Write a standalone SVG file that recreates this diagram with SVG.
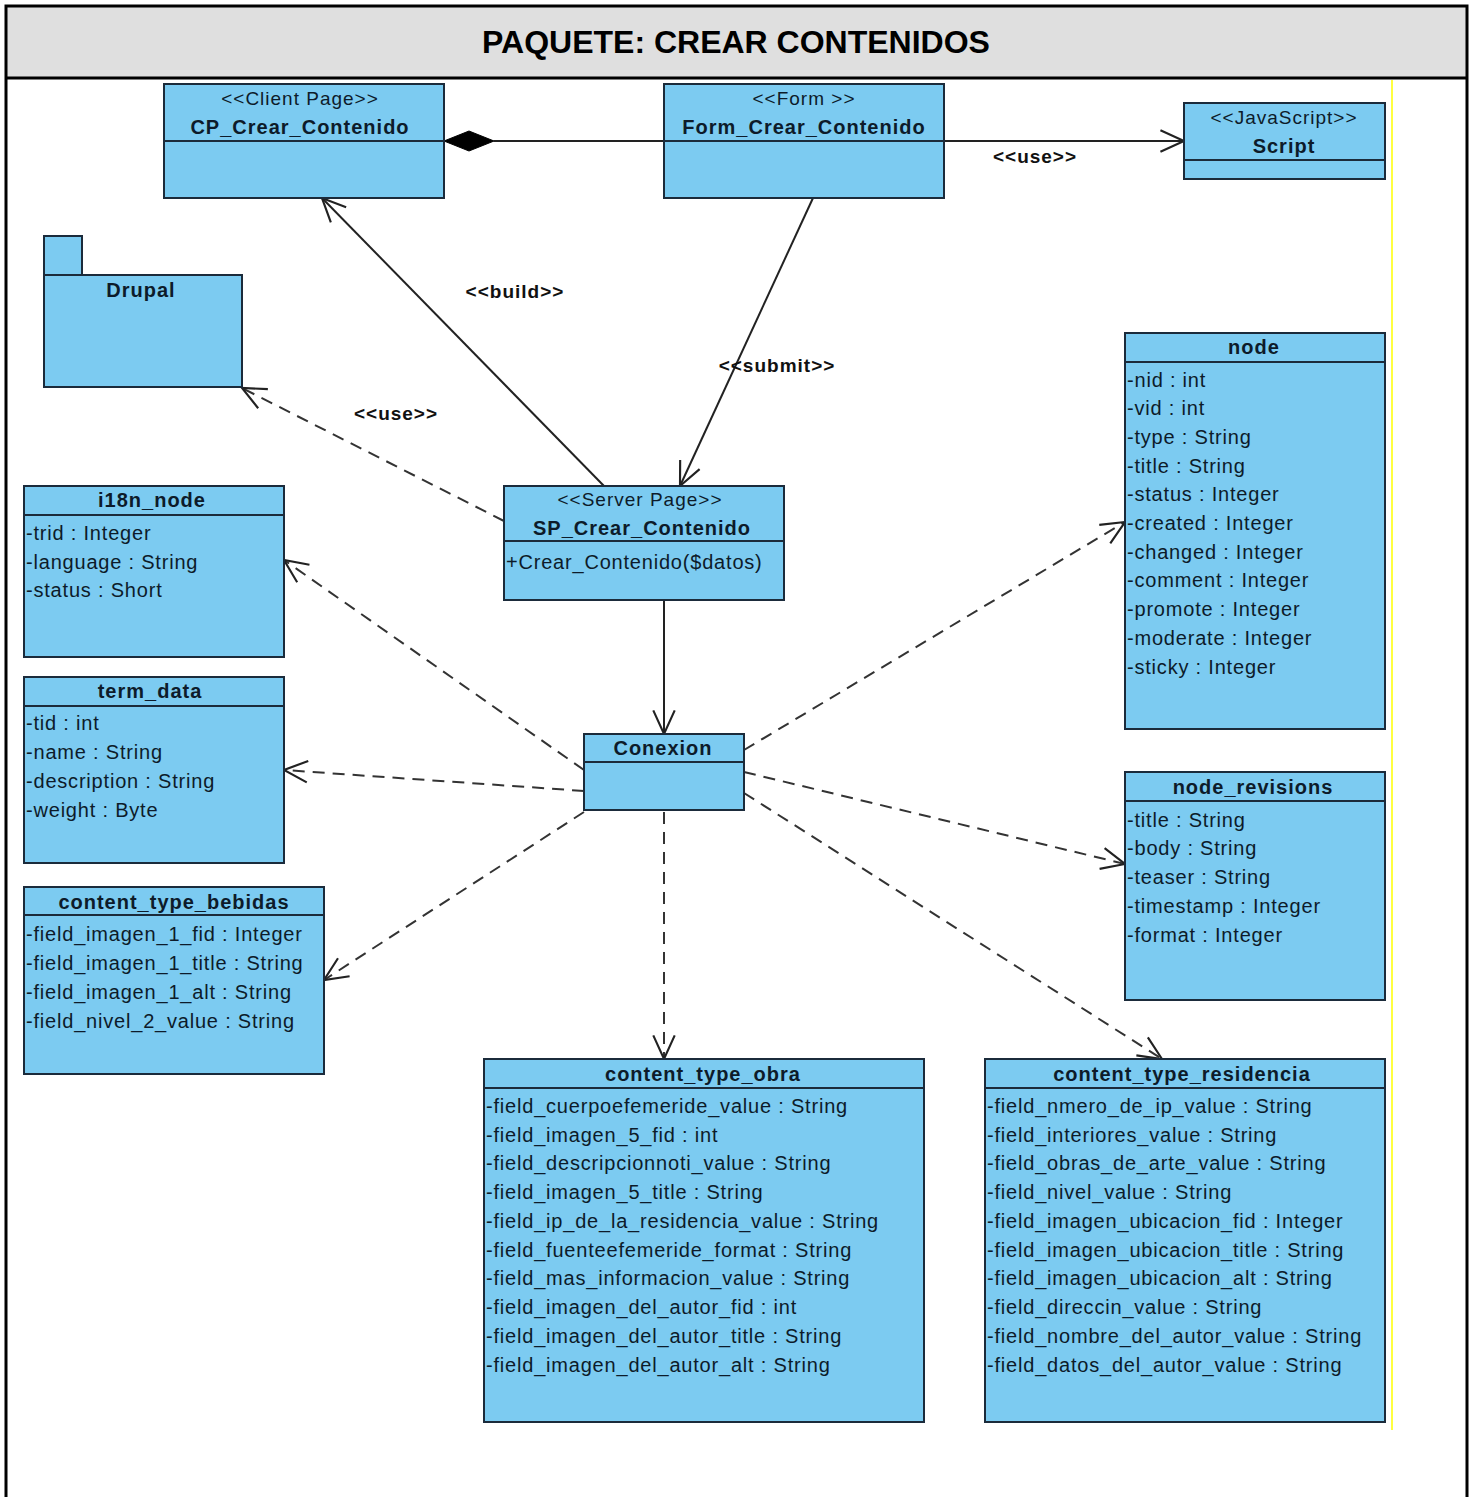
<svg xmlns="http://www.w3.org/2000/svg" width="1473" height="1497" viewBox="0 0 1473 1497">
  <style>
    .box { fill: #7ccbf1; stroke: #1b2b3b; stroke-width: 2; }
    .div { stroke: #1b2b3b; stroke-width: 2; }
    .title { font-family: "Liberation Sans", Arial, sans-serif; font-weight: bold; font-size: 20px; letter-spacing: 1px; fill: #0d1b2a; text-anchor: middle; }
    .stereo { font-family: "Liberation Sans", Arial, sans-serif; font-size: 19px; letter-spacing: 1px; fill: #0d1b2a; text-anchor: middle; }
    .attr { font-family: "Liberation Sans", Arial, sans-serif; font-size: 20px; letter-spacing: 0.8px; fill: #0d1b2a; }
    .lbl { font-family: "Liberation Sans", Arial, sans-serif; font-weight: bold; font-size: 19px; letter-spacing: 1px; fill: #111; text-anchor: middle; }
    .solid { fill: none; stroke: #222; stroke-width: 2; }
    .dash { fill: none; stroke: #333; stroke-width: 2; stroke-dasharray: 12 8; }
  </style>
  <defs>
    <marker id="open" markerUnits="userSpaceOnUse" markerWidth="30" markerHeight="30" viewBox="-24 -12 28 24" refX="0" refY="0" orient="auto">
      <path d="M-22,-10 L0,0 L-22,10" fill="none" stroke="#222" stroke-width="2"/>
    </marker>
  </defs>

  <!-- frame and header -->
  <rect x="0" y="0" width="1473" height="1497" fill="#ffffff"/>
  <rect x="6" y="6" width="1461" height="72" fill="#dfdfdf"/>
  <path d="M6,1497 L6,6 L1467,6 L1467,1497 M6,78 L1467,78" fill="none" stroke="#000" stroke-width="3"/>
  <text x="736" y="53" font-family="Liberation Sans, Arial, sans-serif" font-weight="bold" font-size="32" text-anchor="middle" fill="#000">PAQUETE: CREAR CONTENIDOS</text>
  <line x1="1392" y1="80" x2="1392" y2="1430" stroke="#ffff00" stroke-width="1.5"/>

  <!-- connectors -->
  <g id="connectors">
    <line class="solid" x1="494" y1="141" x2="664" y2="141"/>
    <polygon points="444,141 469,131 494,141 469,151" fill="#000" stroke="#000" stroke-width="1"/>
    <line class="solid" x1="944" y1="141" x2="1184" y2="141" marker-end="url(#open)"/>
    <text class="lbl" x="1035" y="163">&lt;&lt;use&gt;&gt;</text>
    <line class="solid" x1="604" y1="486" x2="322" y2="198" marker-end="url(#open)"/>
    <text class="lbl" x="515" y="298">&lt;&lt;build&gt;&gt;</text>
    <line class="solid" x1="813" y1="198" x2="680" y2="486" marker-end="url(#open)"/>
    <text class="lbl" x="777" y="372">&lt;&lt;submit&gt;&gt;</text>
    <line class="dash" x1="504" y1="521" x2="242" y2="388" marker-end="url(#open)"/>
    <text class="lbl" x="396" y="420">&lt;&lt;use&gt;&gt;</text>
    <line class="solid" x1="664" y1="600" x2="664" y2="734" marker-end="url(#open)"/>
    <line class="dash" x1="584" y1="770" x2="284" y2="560" marker-end="url(#open)"/>
    <line class="dash" x1="584" y1="791" x2="284" y2="770" marker-end="url(#open)"/>
    <line class="dash" x1="584" y1="812" x2="324" y2="980" marker-end="url(#open)"/>
    <line class="dash" x1="744" y1="750" x2="1125" y2="522" marker-end="url(#open)"/>
    <line class="dash" x1="744" y1="772" x2="1125" y2="864" marker-end="url(#open)"/>
    <line class="dash" x1="664" y1="812" x2="664" y2="1059" marker-end="url(#open)"/>
    <line class="dash" x1="744" y1="793" x2="1162" y2="1059" marker-end="url(#open)"/>
  </g>

  <!-- client page -->
  <g id="cp_crear_contenido">
    <rect class="box" x="164" y="84" width="280" height="114"/>
    <line class="div" x1="164" y1="141" x2="444" y2="141"/>
    <text class="stereo" x="300" y="105">&lt;&lt;Client Page&gt;&gt;</text>
    <text class="title" x="300" y="134">CP_Crear_Contenido</text>
  </g>

  <!-- form -->
  <g id="form_crear_contenido">
    <rect class="box" x="664" y="84" width="280" height="114"/>
    <line class="div" x1="664" y1="141" x2="944" y2="141"/>
    <text class="stereo" x="804" y="105">&lt;&lt;Form &gt;&gt;</text>
    <text class="title" x="804" y="134">Form_Crear_Contenido</text>
  </g>

  <!-- script -->
  <g id="script">
    <rect class="box" x="1184" y="103" width="201" height="76"/>
    <line class="div" x1="1184" y1="160" x2="1385" y2="160"/>
    <text class="stereo" x="1284" y="124">&lt;&lt;JavaScript&gt;&gt;</text>
    <text class="title" x="1284" y="153">Script</text>
  </g>

  <!-- package -->
  <g id="drupal">
    <rect class="box" x="44" y="236" width="38" height="39"/>
    <rect class="box" x="44" y="275" width="198" height="112"/>
    <text class="title" x="141" y="297">Drupal</text>
  </g>

  <!-- server page -->
  <g id="sp_crear_contenido">
    <rect class="box" x="504" y="486" width="280" height="114"/>
    <line class="div" x1="504" y1="541" x2="784" y2="541"/>
    <text class="stereo" x="640" y="506">&lt;&lt;Server Page&gt;&gt;</text>
    <text class="title" x="642" y="535">SP_Crear_Contenido</text>
    <text class="attr" x="506" y="569">+Crear_Contenido($datos)</text>
  </g>

  <!-- connection class -->
  <g id="conexion">
    <rect class="box" x="584" y="734" width="160" height="76"/>
    <line class="div" x1="584" y1="762" x2="744" y2="762"/>
    <text class="title" x="663" y="755">Conexion</text>
  </g>

  <g id="i18n_node">
    <rect class="box" x="24" y="486" width="260" height="171"/>
    <line class="div" x1="24" y1="515" x2="284" y2="515"/>
    <text class="title" x="152" y="507">i18n_node</text>
    <text class="attr">
      <tspan x="26" y="540">-trid : Integer</tspan>
      <tspan x="26" y="569">-language : String</tspan>
      <tspan x="26" y="597">-status : Short</tspan>
    </text>
  </g>

  <g id="term_data">
    <rect class="box" x="24" y="677" width="260" height="186"/>
    <line class="div" x1="24" y1="706" x2="284" y2="706"/>
    <text class="title" x="150" y="698">term_data</text>
    <text class="attr">
      <tspan x="26" y="730">-tid : int</tspan>
      <tspan x="26" y="759">-name : String</tspan>
      <tspan x="26" y="788">-description : String</tspan>
      <tspan x="26" y="817">-weight : Byte</tspan>
    </text>
  </g>

  <g id="content_type_bebidas">
    <rect class="box" x="24" y="887" width="300" height="187"/>
    <line class="div" x1="24" y1="915" x2="324" y2="915"/>
    <text class="title" x="174" y="909">content_type_bebidas</text>
    <text class="attr">
      <tspan x="26" y="941">-field_imagen_1_fid : Integer</tspan>
      <tspan x="26" y="970">-field_imagen_1_title : String</tspan>
      <tspan x="26" y="999">-field_imagen_1_alt : String</tspan>
      <tspan x="26" y="1028">-field_nivel_2_value : String</tspan>
    </text>
  </g>

  <g id="node">
    <rect class="box" x="1125" y="333" width="260" height="396"/>
    <line class="div" x1="1125" y1="362" x2="1385" y2="362"/>
    <text class="title" x="1254" y="354">node</text>
    <text class="attr">
      <tspan x="1127" y="387">-nid : int</tspan>
      <tspan x="1127" y="415">-vid : int</tspan>
      <tspan x="1127" y="444">-type : String</tspan>
      <tspan x="1127" y="473">-title : String</tspan>
      <tspan x="1127" y="501">-status : Integer</tspan>
      <tspan x="1127" y="530">-created : Integer</tspan>
      <tspan x="1127" y="559">-changed : Integer</tspan>
      <tspan x="1127" y="587">-comment : Integer</tspan>
      <tspan x="1127" y="616">-promote : Integer</tspan>
      <tspan x="1127" y="645">-moderate : Integer</tspan>
      <tspan x="1127" y="674">-sticky : Integer</tspan>
    </text>
  </g>

  <g id="node_revisions">
    <rect class="box" x="1125" y="772" width="260" height="228"/>
    <line class="div" x1="1125" y1="801" x2="1385" y2="801"/>
    <text class="title" x="1253" y="794">node_revisions</text>
    <text class="attr">
      <tspan x="1127" y="827">-title : String</tspan>
      <tspan x="1127" y="855">-body : String</tspan>
      <tspan x="1127" y="884">-teaser : String</tspan>
      <tspan x="1127" y="913">-timestamp : Integer</tspan>
      <tspan x="1127" y="942">-format : Integer</tspan>
    </text>
  </g>

  <g id="content_type_obra">
    <rect class="box" x="484" y="1059" width="440" height="363"/>
    <line class="div" x1="484" y1="1088" x2="924" y2="1088"/>
    <text class="title" x="703" y="1081">content_type_obra</text>
    <text class="attr">
      <tspan x="486" y="1113">-field_cuerpoefemeride_value : String</tspan>
      <tspan x="486" y="1142">-field_imagen_5_fid : int</tspan>
      <tspan x="486" y="1170">-field_descripcionnoti_value : String</tspan>
      <tspan x="486" y="1199">-field_imagen_5_title : String</tspan>
      <tspan x="486" y="1228">-field_ip_de_la_residencia_value : String</tspan>
      <tspan x="486" y="1257">-field_fuenteefemeride_format : String</tspan>
      <tspan x="486" y="1285">-field_mas_informacion_value : String</tspan>
      <tspan x="486" y="1314">-field_imagen_del_autor_fid : int</tspan>
      <tspan x="486" y="1343">-field_imagen_del_autor_title : String</tspan>
      <tspan x="486" y="1372">-field_imagen_del_autor_alt : String</tspan>
    </text>
  </g>

  <g id="content_type_residencia">
    <rect class="box" x="985" y="1059" width="400" height="363"/>
    <line class="div" x1="985" y1="1088" x2="1385" y2="1088"/>
    <text class="title" x="1182" y="1081">content_type_residencia</text>
    <text class="attr">
      <tspan x="987" y="1113">-field_nmero_de_ip_value : String</tspan>
      <tspan x="987" y="1142">-field_interiores_value : String</tspan>
      <tspan x="987" y="1170">-field_obras_de_arte_value : String</tspan>
      <tspan x="987" y="1199">-field_nivel_value : String</tspan>
      <tspan x="987" y="1228">-field_imagen_ubicacion_fid : Integer</tspan>
      <tspan x="987" y="1257">-field_imagen_ubicacion_title : String</tspan>
      <tspan x="987" y="1285">-field_imagen_ubicacion_alt : String</tspan>
      <tspan x="987" y="1314">-field_direccin_value : String</tspan>
      <tspan x="987" y="1343">-field_nombre_del_autor_value : String</tspan>
      <tspan x="987" y="1372">-field_datos_del_autor_value : String</tspan>
    </text>
  </g>
</svg>
